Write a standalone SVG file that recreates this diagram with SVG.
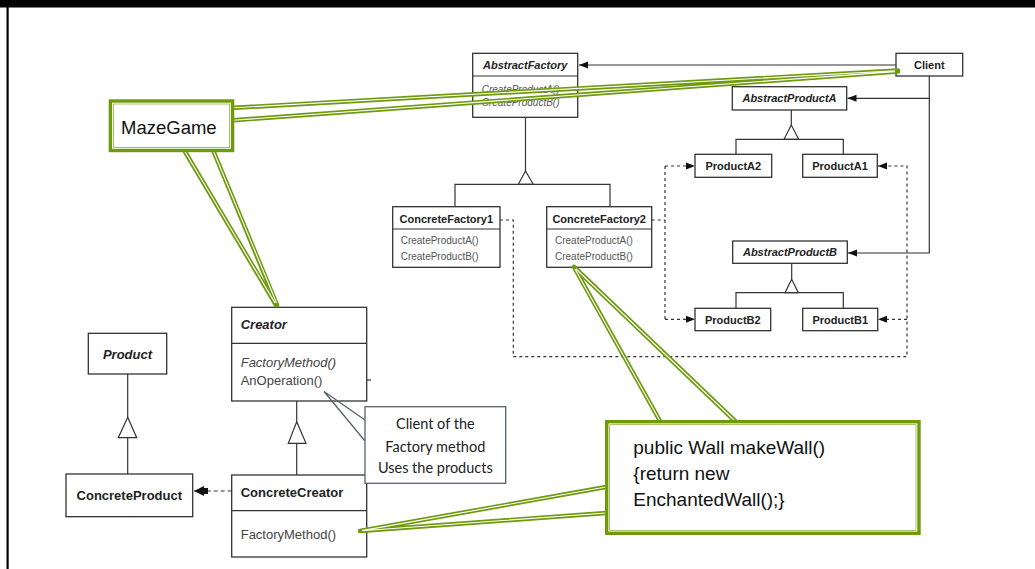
<svg xmlns="http://www.w3.org/2000/svg" width="1035" height="569" viewBox="0 0 1035 569">
<defs>
<style>
.box{fill:#fff;stroke:#333;stroke-width:1.3}
.ln{fill:none;stroke:#333;stroke-width:1.2}
.dash{fill:none;stroke:#333;stroke-width:1.2;stroke-dasharray:3 3}
.tri{fill:#fff;stroke:#333;stroke-width:1.2}
.b11{font-family:"Liberation Sans",Arial,sans-serif;font-size:11px;font-weight:bold;fill:#222}
.bi11{font-family:"Liberation Sans",Arial,sans-serif;font-size:11px;font-weight:bold;font-style:italic;fill:#222}
.m10{font-family:"Liberation Sans",Arial,sans-serif;font-size:10px;fill:#555}
.mi10{font-family:"Liberation Sans",Arial,sans-serif;font-size:10px;font-style:italic;fill:#555}
.b13{font-family:"Liberation Sans",Arial,sans-serif;font-size:13px;font-weight:bold;fill:#222}
.bi13{font-family:"Liberation Sans",Arial,sans-serif;font-size:13px;font-weight:bold;font-style:italic;fill:#222}
.m13{font-family:"Liberation Sans",Arial,sans-serif;font-size:13px;fill:#444}
.mi13{font-family:"Liberation Sans",Arial,sans-serif;font-size:13px;font-style:italic;fill:#444}
.gOut{fill:none;stroke:#6f9a0e;stroke-width:4.5;stroke-linecap:round}
.gIn{fill:none;stroke:#fff;stroke-width:1.1}
.gBox{fill:#fff;stroke:#6f9a0e;stroke-width:5}
.gBoxIn{fill:none;stroke:#fff;stroke-width:1}
.big{font-family:"Liberation Sans",Arial,sans-serif;fill:#111}
.note{font-family:Lato,"Open Sans",sans-serif;font-size:14.5px;fill:#222}
</style>
<marker id="arr" markerUnits="userSpaceOnUse" markerWidth="9" markerHeight="8" refX="9" refY="4" orient="auto">
<path d="M0,0.5 L9,4 L0,7.5 z" fill="#111"/>
</marker>
<marker id="arrBig" markerUnits="userSpaceOnUse" markerWidth="16" markerHeight="12" refX="15" refY="6" orient="auto">
<path d="M5,1 L15,6 L5,11 z M1,3 H6 V9 H1 z" fill="#111"/>
</marker>
</defs>

<rect x="0" y="0" width="1035" height="569" fill="#fff"/>
<rect x="0" y="0" width="1035" height="7.5" fill="#000"/>
<rect x="6.5" y="7" width="2.2" height="562" fill="#000"/>

<g id="connectors">
<path class="ln" d="M896,65 H579" marker-end="url(#arr)"/>
<path class="ln" d="M929.3,76 V253 H848" marker-end="url(#arr)"/>
<path class="ln" d="M929.3,98.3 H847.5" marker-end="url(#arr)"/>
<path class="ln" d="M525.5,117.3 V171"/>
<polygon class="tri" points="525.5,171 518.3,184.3 533.3,184.3"/>
<path class="ln" d="M455,206.7 V184.3 H610 V206.7"/>
<path class="ln" d="M791.3,110 V125"/>
<polygon class="tri" points="791.3,125 784,139.3 798.7,139.3"/>
<path class="ln" d="M736,154.3 V139.3 H843.3 V154.3"/>
<path class="ln" d="M791.7,263.3 V279.3"/>
<polygon class="tri" points="791.7,279.3 785,292.7 798.3,292.7"/>
<path class="ln" d="M736,308.3 V292.7 H843.3 V308.3"/>
<path class="dash" d="M651.7,220 H665"/>
<path class="dash" d="M665,166 V319.3"/>
<path class="dash" d="M665,166 H695" marker-end="url(#arr)"/>
<path class="dash" d="M665,319.3 H695" marker-end="url(#arr)"/>
<path class="dash" d="M500,220 H513.3 V356.7 H907 V166 H878" marker-end="url(#arr)"/>
<path class="dash" d="M907,319.3 H878" marker-end="url(#arr)"/>
<path class="ln" d="M296.7,401 V421.7"/>
<polygon class="tri" points="296.7,421.7 288.3,443.3 306,443.3"/>
<path class="ln" d="M296.7,443.3 V475"/>
<path class="ln" d="M127.7,374 V417.3"/>
<polygon class="tri" points="127.7,417.3 118.3,437.7 136.7,437.7"/>
<path class="ln" d="M127.7,437.7 V474"/>
<path class="ln" d="M231.7,491 H194" stroke-dasharray="4 3" marker-end="url(#arrBig)"/>
<path class="ln" d="M366.7,380 H371"/>
</g>

<g id="client">
<rect class="box" x="896" y="53.3" width="66.7" height="22.7"/>
<text class="b11" x="929.3" y="69" text-anchor="middle">Client</text>
</g>

<g id="abstractFactory">
<rect class="box" x="472.7" y="53.3" width="105" height="64"/>
<line class="ln" x1="472.7" y1="76" x2="577.7" y2="76"/>
<text class="bi11" x="525.2" y="69" text-anchor="middle">AbstractFactory</text>
<text class="mi10" x="481.7" y="93.3">CreateProductA()</text>
<text class="mi10" x="481.7" y="105.7">CreateProductB()</text>
</g>

<g id="abstractProductA">
<rect class="box" x="732.3" y="86.7" width="114.4" height="23.3"/>
<text class="bi11" x="789.5" y="102.3" text-anchor="middle">AbstractProductA</text>
</g>

<g id="productA2">
<rect class="box" x="695" y="154.3" width="76.7" height="23"/>
<text class="b11" x="733.3" y="169.7" text-anchor="middle">ProductA2</text>
</g>

<g id="productA1">
<rect class="box" x="802.7" y="154.3" width="74.6" height="23"/>
<text class="b11" x="840" y="169.7" text-anchor="middle">ProductA1</text>
</g>

<g id="concreteFactory1">
<rect class="box" x="392.7" y="206.7" width="107.3" height="60.6"/>
<line class="ln" x1="392.7" y1="229" x2="500" y2="229"/>
<text class="b11" x="446.3" y="222.5" text-anchor="middle">ConcreteFactory1</text>
<text class="m10" x="400.7" y="244">CreateProductA()</text>
<text class="m10" x="400.7" y="260">CreateProductB()</text>
</g>

<g id="concreteFactory2">
<rect class="box" x="546.7" y="206.7" width="105" height="60.6"/>
<line class="ln" x1="546.7" y1="229" x2="651.7" y2="229"/>
<text class="b11" x="599.2" y="222.5" text-anchor="middle">ConcreteFactory2</text>
<text class="m10" x="555" y="244">CreateProductA()</text>
<text class="m10" x="555" y="260">CreateProductB()</text>
</g>

<g id="abstractProductB">
<rect class="box" x="732.7" y="241" width="114.6" height="22.3"/>
<text class="bi11" x="790" y="256.3" text-anchor="middle">AbstractProductB</text>
</g>

<g id="productB2">
<rect class="box" x="695" y="308.3" width="75.7" height="22.4"/>
<text class="b11" x="732.8" y="323.5" text-anchor="middle">ProductB2</text>
</g>

<g id="productB1">
<rect class="box" x="802.7" y="308.3" width="75" height="22.4"/>
<text class="b11" x="840.2" y="323.5" text-anchor="middle">ProductB1</text>
</g>

<g id="product">
<rect class="box" x="88.3" y="333.3" width="78.4" height="40.7"/>
<text class="bi13" x="127.5" y="359.3" text-anchor="middle">Product</text>
</g>

<g id="concreteProduct">
<rect class="box" x="66" y="474" width="126.7" height="42.7"/>
<text class="b13" x="129.3" y="500" text-anchor="middle">ConcreteProduct</text>
</g>

<g id="creator">
<rect class="box" x="231.7" y="307.3" width="135" height="93.7"/>
<line class="ln" x1="231.7" y1="343.3" x2="366.7" y2="343.3"/>
<text class="bi13" x="240.7" y="329">Creator</text>
<text class="mi13" x="240.7" y="366.7">FactoryMethod()</text>
<text class="m13" x="240.7" y="385">AnOperation()</text>
</g>

<g id="concreteCreator">
<rect class="box" x="231.7" y="475" width="135" height="82"/>
<line class="ln" x1="231.7" y1="510.7" x2="366.7" y2="510.7"/>
<text class="b13" x="240.7" y="496.7">ConcreteCreator</text>
<text class="m13" x="240.7" y="539">FactoryMethod()</text>
</g>

<g id="clientNote">
<path d="M365,420 L324,391.5 L365,441" fill="none" stroke="#596070" stroke-width="1.3"/>
<rect x="365" y="406.7" width="140.7" height="76.6" fill="#fff" stroke="#596070" stroke-width="1.3"/>
<text class="note" x="435.3" y="429.3" text-anchor="middle">Client of the</text>
<text class="note" x="435.3" y="451.5" text-anchor="middle">Factory method</text>
<text class="note" x="435.3" y="472.7" text-anchor="middle">Uses the products</text>
</g>

<g id="mazeGame">
<path class="gOut" d="M230,108 L898,70.5 M230,120.5 L898,71.5"/>
<path class="gIn" d="M230,108 L895,70.7 M230,120.5 L895,71.6"/>
<path class="gOut" d="M184,150 L276,305 M213,150 L277,305"/>
<path class="gIn" d="M184,150 L275,303 M213,150 L276.5,303"/>
<rect class="gBox" x="111.2" y="101.8" width="120.6" height="47.9"/>
<rect class="gBoxIn" x="112.6" y="103.2" width="117.8" height="45.1"/>
<text class="big" x="121" y="133.5" font-size="18.5">MazeGame</text>
</g>

<g id="makeWall">
<path class="gOut" d="M660,421 L574,267 M735,421 L574,267"/>
<path class="gIn" d="M660,421 L575,269 M735,421 L576,269"/>
<path class="gOut" d="M606,487 L360,531 M606,513 L360,531"/>
<path class="gIn" d="M606,487 L362,530.6 M606,513 L362,530.8"/>
<rect class="gBox" x="607.5" y="422.5" width="310.7" height="110"/>
<rect class="gBoxIn" x="608.9" y="423.9" width="307.9" height="107.2"/>
<text class="big" font-size="19">
<tspan x="633.3" y="454">public Wall makeWall()</tspan>
<tspan x="633.3" y="480">{return new</tspan>
<tspan x="633.3" y="506">EnchantedWall();}</tspan>
</text>
</g>
</svg>
